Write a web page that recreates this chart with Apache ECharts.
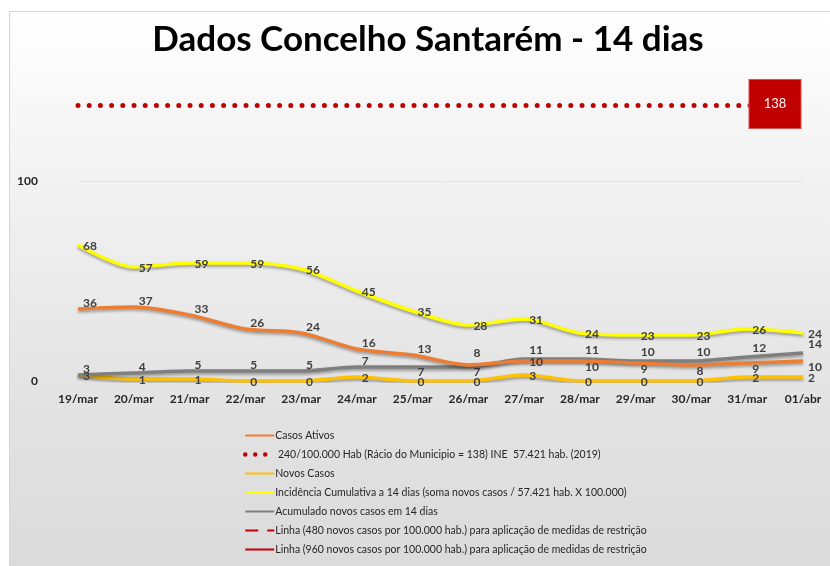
<!DOCTYPE html>
<html>
<head>
<meta charset="utf-8">
<script src="https://cdn.jsdelivr.net/npm/echarts@6/dist/echarts.min.js"></script>
<style>
html,body{margin:0;padding:0;background:#ffffff;}
#chart{width:830px;height:566px;}
</style>
</head>
<body>
<div id="chart"></div>
<script>
// ---- data ----
const categories = ['19/mar','20/mar','21/mar','22/mar','23/mar','24/mar','25/mar','26/mar','27/mar','28/mar','29/mar','30/mar','31/mar','01/abr'];
const casosAtivos = [36, 37, 33, 26, 24, 16, 13, 8, 10, 10, 9, 8, 9, 10];
const novosCasos = [3, 1, 1, 0, 0, 2, 0, 0, 3, 0, 0, 0, 2, 2];
const incidencia14 = [68, 57, 59, 59, 56, 45, 35, 28, 31, 24, 23, 23, 26, 24];
const acumulado14 = [3, 4, 5, 5, 5, 7, 7, 7, 11, 11, 10, 10, 12, 14];
const racioMunicipio = 138;
const yTicks = [0, 100];

const names = {
  ativos: 'Casos Ativos',
  racio: ' 240/100.000 Hab (Rácio do Municipio = 138) INE  57.421 hab. (2019)',
  novos: 'Novos Casos',
  incid: 'Incidência Cumulativa a 14 dias (soma novos casos / 57.421 hab. X 100.000)',
  acum: 'Acumulado novos casos em 14 dias',
  l480: 'Linha (480 novos casos por 100.000 hab.) para aplicação de medidas de restrição',
  l960: 'Linha (960 novos casos por 100.000 hab.) para aplicação de medidas de restrição'
};

const FONT = 'Lato';
const lblColor = '#404040';
const shadow = {shadowColor:'rgba(0,0,0,0.35)', shadowBlur:3, shadowOffsetY:2};

function lbl(dy){
  return {show:true, position:'right', distance:5, offset:[0,dy],
    color:lblColor, fontFamily:FONT, fontWeight:'bold', fontSize:12};
}
// label placement rule: returns vertical shift (style only)
function withLabels(values, rule){
  return values.map((v, i) => ({value:v, label:lbl(rule(i))}));
}
function lineSeries(name, data, color, z){
  return {
    name:name, type:'line', data:data, smooth:0.3,
    symbol:'circle', symbolSize:0, showSymbol:true,
    lineStyle:Object.assign({color:color, width:3.5}, shadow),
    itemStyle:{color:color}, z:z
  };
}

const chart = echarts.init(document.getElementById('chart'), null, {renderer:'canvas'});
chart.setOption({
  animation:false,
  backgroundColor:'#ffffff',
  graphic:[{
    type:'rect', z:-100, silent:true,
    shape:{x:9.5, y:11.5, width:830, height:566},
    style:{
      fill:new echarts.graphic.LinearGradient(0,0,0,1,[
        {offset:0, color:'#ffffff'},
        {offset:0.3, color:'#f2f2f2'},
        {offset:0.68, color:'#e3e3e3'},
        {offset:1, color:'#dadada'}
      ]),
      stroke:'#d6d6d6', lineWidth:1
    }
  }],
  title:{
    text:'Dados Concelho Santarém - 14 dias',
    left:423, textAlign:'center', top:17,
    textStyle:{fontFamily:FONT, fontWeight:'bold', fontSize:35, color:'#000000'}
  },
  grid:{left:78, right:27, top:81, bottom:185},
  xAxis:{
    type:'category', data:categories, boundaryGap:false,
    axisLine:{show:false}, axisTick:{show:false},
    axisLabel:{margin:12, color:'#262626', fontFamily:FONT, fontWeight:'bold', fontSize:12}
  },
  yAxis:{
    type:'value', min:0, max:150, interval:100,
    axisLine:{show:false}, axisTick:{show:false},
    axisLabel:{margin:40, showMaxLabel:false, color:'#262626', fontFamily:FONT, fontWeight:'bold', fontSize:12,
      formatter:v => yTicks.includes(v) ? String(v) : ''},
    splitLine:{show:true, lineStyle:{color:['#e4e4e4','#e4e4e4','rgba(0,0,0,0)'], width:1}}
  },
  legend:{
    orient:'vertical', left:243, top:430, padding:0,
    itemWidth:29, itemHeight:11, itemGap:8,
    itemStyle:{opacity:0},
    textStyle:{fontFamily:FONT, fontSize:10.5, color:'#262626', padding:[0,0,0,-4]},
    data:[
      names.ativos,
      {name:names.racio, lineStyle:{width:4.5, type:[0,10], cap:'round'}},
      names.novos, names.incid, names.acum,
      {name:names.l480, lineStyle:{type:[13,9]}},
      names.l960
    ]
  },
  series:[
    Object.assign(lineSeries(names.ativos, withLabels(casosAtivos, i => i < 8 ? (i === 7 ? -12 : -6) : (i === 8 ? 1 : 6)), '#ED7D31', 3)),
    {
      name:names.racio, type:'line', data:[], symbol:'none',
      lineStyle:{color:'#C00000', width:5, type:[0,11.2], cap:'round'},
      itemStyle:{color:'#C00000'},
      markLine:{
        silent:true, symbol:'none', label:{show:false},
        lineStyle:{color:'#C00000', width:5, type:[0,11.2], cap:'round'},
        data:[{yAxis:racioMunicipio}]
      },
      markPoint:{
        silent:true, symbol:'rect', symbolSize:[52,49], symbolOffset:[-28,-1],
        itemStyle:{color:'#C00000', borderColor:'#d85050', borderWidth:1},
        label:{show:true, color:'#ffffff', fontFamily:FONT, fontSize:13, formatter:String(racioMunicipio)},
        data:[{coord:[categories[categories.length-1], racioMunicipio], value:racioMunicipio}]
      }
    },
    lineSeries(names.novos, withLabels(novosCasos, () => 1), '#FFC000', 2),
    lineSeries(names.incid, withLabels(incidencia14, () => 1), '#FFFF00', 4),
    lineSeries(names.acum, withLabels(acumulado14, i => (i === 6 || i === 7) ? 5 : (i >= 8 ? -9 : -6)), '#7F7F7F', 2),
    {
      name:names.l480, type:'line', data:[], symbol:'none',
      lineStyle:{color:'#C00000', width:3, type:[13,9]}, itemStyle:{color:'#C00000'}
    },
    {
      name:names.l960, type:'line', data:[], symbol:'none',
      lineStyle:{color:'#C00000', width:3.5}, itemStyle:{color:'#C00000'}
    }
  ]
});
</script>
</body>
</html>
